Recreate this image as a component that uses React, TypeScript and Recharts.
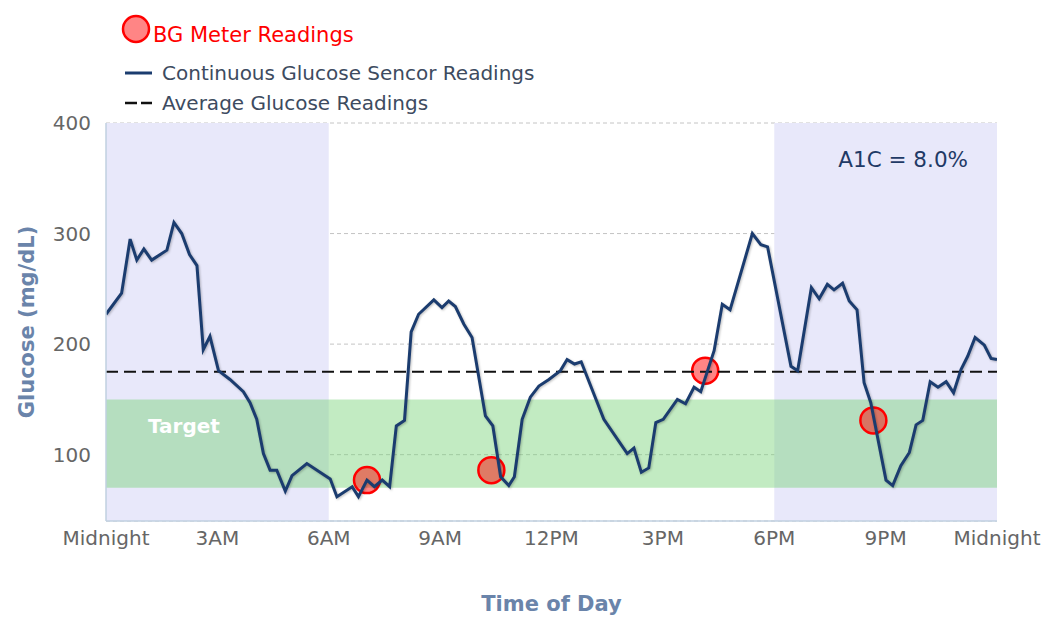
import React from 'react';
import {
  ComposedChart,
  Line,
  Scatter,
  XAxis,
  YAxis,
  CartesianGrid,
  ReferenceArea,
  ReferenceLine,
  Legend,
} from 'recharts';

// Continuous glucose sensor readings (hour of day, mg/dL)
const cgmHours = [
  0.0, 0.42, 0.65, 0.83, 1.02, 1.23, 1.64, 1.83, 2.04, 2.25, 2.45, 2.62, 2.8, 3.03, 3.34, 3.7, 3.88,
  4.06, 4.24, 4.42, 4.6, 4.83, 5.01, 5.41, 6.04, 6.22, 6.63, 6.8, 7.03, 7.23, 7.44, 7.64, 7.82, 8.04,
  8.22, 8.42, 8.83, 9.05, 9.23, 9.41, 9.64, 9.86, 10.22, 10.42, 10.63, 10.85, 11.0, 11.21, 11.43,
  11.66, 11.93, 12.24, 12.42, 12.62, 12.8, 13.41, 14.04, 14.22, 14.42, 14.62, 14.81, 15.01, 15.39,
  15.61, 15.84, 16.02, 16.38, 16.6, 16.81, 17.41, 17.64, 17.82, 18.45, 18.63, 19.0, 19.21, 19.43,
  19.61, 19.84, 20.02, 20.23, 20.42, 20.6, 21.01, 21.19, 21.41, 21.64, 21.82, 22.0, 22.2, 22.41,
  22.63, 22.83, 23.03, 23.21, 23.41, 23.66, 23.84, 24.0,
];
const cgmValues = [
  227, 246, 295, 276, 286, 276, 285, 310, 300, 281, 271, 195, 207, 176, 168, 157, 147,
  132, 101, 86, 86, 67, 81, 92, 78, 62, 71, 62, 77, 71, 77, 71, 126, 131,
  211, 227, 240, 233, 239, 234, 218, 206, 135, 126, 80, 72, 80, 132, 152,
  162, 168, 176, 186, 182, 184, 132, 101, 106, 84, 88, 129, 132, 150,
  146, 161, 157, 194, 236, 231, 300, 290, 288, 180, 176, 251, 241, 254,
  249, 255, 239, 231, 165, 147, 77, 72, 90, 102, 127, 131, 166, 161,
  166, 156, 177, 189, 206, 199, 187, 186,
];

// BG meter readings
const bgHours = [7.03, 10.38, 16.14, 20.67];
const bgValues = [77, 86, 176, 131];

// Axes
const xTicks = [0, 3, 6, 9, 12, 15, 18, 21, 24];
const xTickLabels = ['Midnight', '3AM', '6AM', '9AM', '12PM', '3PM', '6PM', '9PM', 'Midnight'];
const yTicks = [100, 200, 300, 400];
const yDomain = [40, 400];

// Bands and reference values
const nightStart = [0, 18];
const nightEnd = [6, 24];
const targetLow = 70;
const targetHigh = 150;
const averageGlucose = 175;
const a1cText = 'A1C = 8.0%';

const cgmData = cgmHours.map((h, i) => ({ h, g: cgmValues[i] }));
const bgData = bgHours.map((h, i) => ({ h, g: bgValues[i] }));

const FONT = "'DejaVu Sans', Verdana, sans-serif";
const NAVY = '#1b3c6f';
const TITLE_COLOR = '#6a84aa';

const BgDot = (props: any) => (
  <circle
    cx={props.cx}
    cy={props.cy}
    r={13}
    fill="rgba(255,0,0,0.48)"
    stroke="#ff0000"
    strokeWidth={2.5}
  />
);

const YTitle = (props: any) => {
  const vb = props.viewBox || {};
  const cx = 27;
  const cy = vb.y + vb.height / 2;
  return (
    <text
      x={cx}
      y={cy}
      transform={`rotate(-90 ${cx} ${cy})`}
      textAnchor="middle"
      dominantBaseline="central"
      fontFamily={FONT}
      fontSize={21}
      fontWeight="bold"
      fill={TITLE_COLOR}
    >
      Glucose (mg/dL)
    </text>
  );
};

const XTitle = (props: any) => {
  const vb = props.viewBox || {};
  return (
    <text
      x={vb.x + vb.width / 2}
      y={604}
      textAnchor="middle"
      dominantBaseline="central"
      fontFamily={FONT}
      fontSize={21}
      fontWeight="bold"
      fill={TITLE_COLOR}
    >
      Time of Day
    </text>
  );
};

const TargetLabel = (props: any) => {
  const vb = props.viewBox || {};
  return (
    <text
      x={vb.x + 42}
      y={vb.y + 27}
      textAnchor="start"
      dominantBaseline="central"
      fontFamily={FONT}
      fontSize={20}
      fontWeight="bold"
      fill="#ffffff"
    >
      Target
    </text>
  );
};

const A1cLabel = (props: any) => {
  const vb = props.viewBox || {};
  return (
    <text
      x={vb.x + vb.width - 29}
      y={vb.y + 36}
      textAnchor="end"
      dominantBaseline="central"
      fontFamily={FONT}
      fontSize={21.5}
      fill="#1f3a66"
    >
      {a1cText}
    </text>
  );
};

const LegendContent = () => (
  <svg width={560} height={120} style={{ display: 'block' }}>
    <circle cx={136} cy={29} r={13} fill="rgba(255,0,0,0.48)" stroke="#ff0000" strokeWidth={2.5} />
    <text x={153} y={42} fontFamily={FONT} fontSize={21} fill="#ff0000">
      BG Meter Readings
    </text>
    <line x1={125} y1={73} x2={152} y2={73} stroke={NAVY} strokeWidth={3} />
    <text x={162} y={80} fontFamily={FONT} fontSize={20} fill="#3d4b60">
      Continuous Glucose Sencor Readings
    </text>
    <line x1={125} y1={103} x2={152} y2={103} stroke="#111" strokeWidth={2.5} strokeDasharray="12 4" />
    <text x={162} y={110} fontFamily={FONT} fontSize={20} fill="#3d4b60">
      Average Glucose Readings
    </text>
  </svg>
);

export default function App() {
  return (
    <div style={{ position: 'absolute', left: 0, top: 0, width: 1046, height: 617, fontFamily: FONT, background: '#fff' }}>
      <ComposedChart
        width={1046}
        height={617}
        margin={{ top: 123, right: 49, bottom: 66, left: 0 }}
        style={{ fontFamily: FONT }}
      >
        <ReferenceArea x1={nightStart[0]} x2={nightEnd[0]} y1={yDomain[0]} y2={yDomain[1]} fill="#e8e8fa" fillOpacity={1} stroke="none" />
        <ReferenceArea
          x1={nightStart[1]}
          x2={nightEnd[1]}
          y1={yDomain[0]}
          y2={yDomain[1]}
          fill="#e8e8fa"
          fillOpacity={1}
          stroke="none"
          label={<A1cLabel />}
        />
        <CartesianGrid vertical={false} stroke="#c4c4c4" strokeDasharray="4 3" />
        <ReferenceArea
          x1={0}
          x2={24}
          y1={targetLow}
          y2={targetHigh}
          fill="#78d278"
          fillOpacity={0.45}
          stroke="none"
          label={<TargetLabel />}
        />
        <XAxis
          dataKey="h"
          type="number"
          domain={[0, 24]}
          ticks={xTicks}
          interval={0}
          tickFormatter={(v: number) => xTickLabels[xTicks.indexOf(v)] ?? ''}
          tickLine={false}
          tickMargin={4}
          axisLine={{ stroke: '#c0d0e0', strokeWidth: 1.5 }}
          tick={{ fontSize: 20, fill: '#666', fontFamily: FONT }}
          height={30}
          label={<XTitle />}
          allowDataOverflow
        />
        <YAxis
          type="number"
          domain={yDomain}
          ticks={yTicks}
          interval={0}
          width={106}
          tickLine={false}
          tickMargin={9}
          axisLine={{ stroke: '#c0d0e0', strokeWidth: 1.5 }}
          tick={{ fontSize: 20, fill: '#666', fontFamily: FONT }}
          label={<YTitle />}
          allowDataOverflow
        />
        <ReferenceLine y={averageGlucose} stroke="#111" strokeWidth={2} strokeDasharray="12 6" />
        <Scatter data={bgData} dataKey="g" shape={<BgDot />} isAnimationActive={false} zIndex={350} />
        <Line
          data={cgmData}
          dataKey="g"
          type="linear"
          stroke={NAVY}
          strokeWidth={3}
          dot={false}
          activeDot={false}
          isAnimationActive={false}
          zIndex={400}
          style={{ filter: 'drop-shadow(1px 1.5px 1px rgba(0,0,0,0.25))' }}
        />
        <Legend
          verticalAlign="middle"
          align="center"
          layout="horizontal"
          wrapperStyle={{ position: 'absolute', top: 0, left: 0, width: 560, height: 120 }}
          content={<LegendContent />}
        />
      </ComposedChart>
    </div>
  );
}
